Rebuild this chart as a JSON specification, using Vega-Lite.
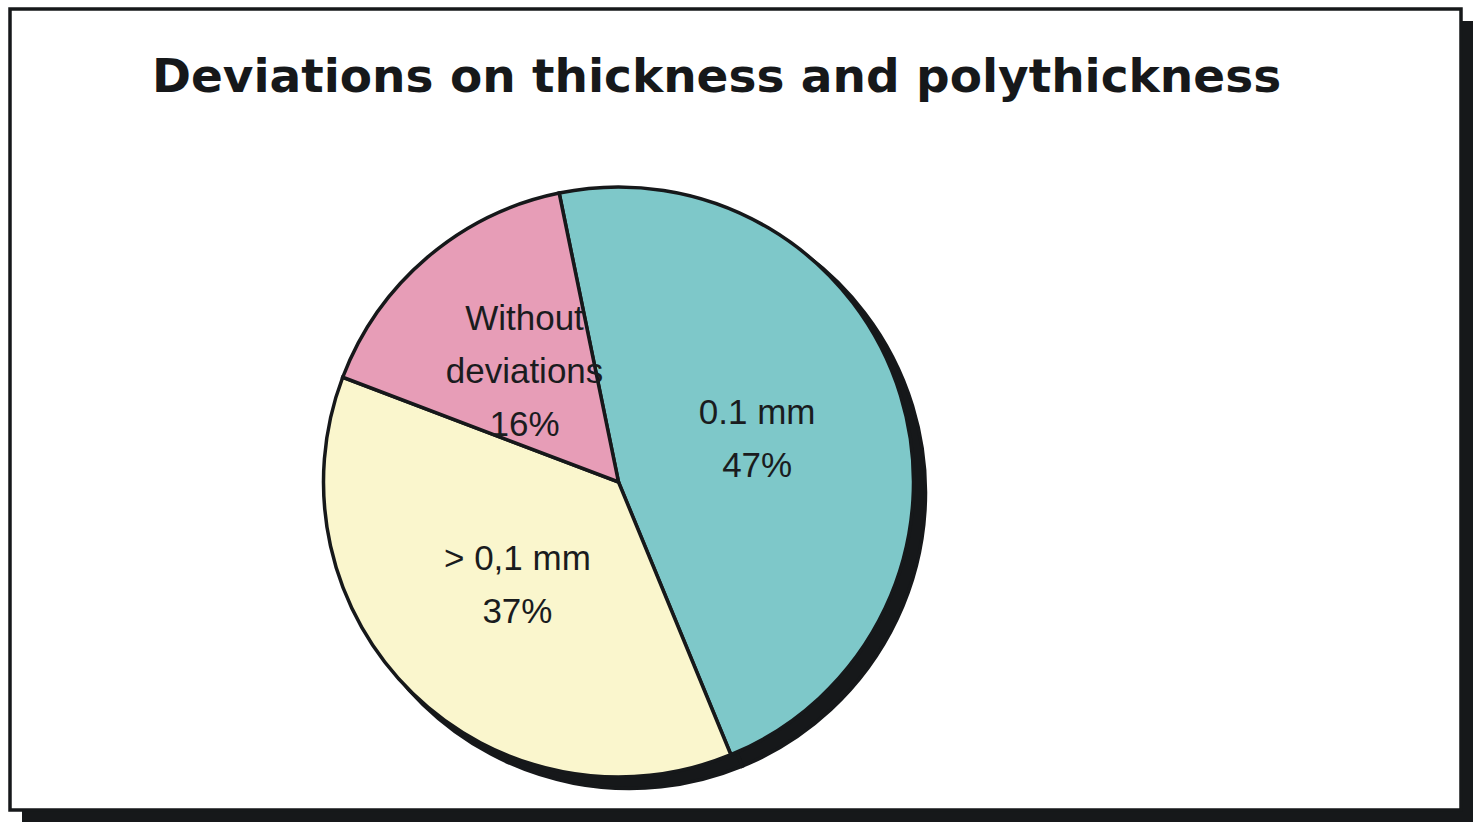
{
  "$schema": "https://vega.github.io/schema/vega-lite/v6.json",
  "autosize": "none",
  "width": 1451,
  "height": 801,
  "padding": {"left": 10, "top": 9, "right": 12, "bottom": 12},
  "background": "white",
  "config": {"view": {"stroke": null}},
  "title": {
    "text": "Deviations on thickness and polythickness",
    "font": "DejaVu Sans",
    "fontSize": 47,
    "fontWeight": "bold",
    "color": "#16181a",
    "anchor": "middle",
    "frame": "group",
    "baseline": "alphabetic",
    "offset": 0,
    "dx": -19,
    "dy": 132
  },
  "data": {
    "values": [
      {"category": "0.1 mm", "pct": 47, "label": "0.1 mm\n47%", "lines": 2, "rank": 1},
      {"category": "> 0,1 mm", "pct": 37, "label": "> 0,1 mm\n37%", "lines": 2, "rank": 2},
      {"category": "Without deviations", "pct": 16, "label": "Without\ndeviations\n16%", "lines": 3, "rank": 3}
    ]
  },
  "layer": [
    {
      "data": {"values": [{}]},
      "mark": {"type": "rect", "fill": "#16181a", "xOffset": 12, "x2Offset": 12, "yOffset": 12, "y2Offset": 12},
      "encoding": {
        "x": {"value": 0},
        "x2": {"value": "width"},
        "y": {"value": 0},
        "y2": {"value": "height"}
      }
    },
    {
      "data": {"values": [{}]},
      "mark": {"type": "rect", "fill": "white", "stroke": "#16181a", "strokeWidth": 3.5},
      "encoding": {}
    },
    {
      "mark": {"type": "arc", "outerRadius": 296, "fill": "#16181a", "stroke": "#16181a", "strokeWidth": 3.5, "xOffset": -106, "yOffset": 83},
      "encoding": {
        "theta": {"field": "pct", "type": "quantitative", "stack": true, "scale": {"range": [-0.2025, 6.0807]}},
        "order": {"field": "rank", "type": "ordinal"}
      }
    },
    {
      "mark": {"type": "arc", "outerRadius": 295, "stroke": "#16181a", "strokeWidth": 3.5, "xOffset": -117, "yOffset": 72.5},
      "encoding": {
        "theta": {"field": "pct", "type": "quantitative", "stack": true},
        "order": {"field": "rank", "type": "ordinal"},
        "color": {
          "field": "category",
          "type": "nominal",
          "scale": {"domain": ["0.1 mm", "> 0,1 mm", "Without deviations"], "range": ["#7ec8c9", "#faf6cd", "#e79db7"]},
          "legend": null
        }
      }
    },
    {
      "mark": {"type": "text", "radius": 145, "font": "Liberation Sans", "fontSize": 35, "lineHeight": 53, "lineBreak": "\n", "color": "#1a1c1e", "align": "center", "baseline": "middle", "xOffset": -117, "yOffset": 72.5, "dy": -26.5},
      "encoding": {
        "theta": {"field": "pct", "type": "quantitative", "stack": true},
        "order": {"field": "rank", "type": "ordinal"},
        "text": {"field": "label", "type": "nominal"},
        "opacity": {"condition": {"test": "datum.lines == 2", "value": 1}, "value": 0}
      }
    },
    {
      "mark": {"type": "text", "radius": 145, "font": "Liberation Sans", "fontSize": 35, "lineHeight": 53, "lineBreak": "\n", "color": "#1a1c1e", "align": "center", "baseline": "middle", "xOffset": -117, "yOffset": 72.5, "dy": -53},
      "encoding": {
        "theta": {"field": "pct", "type": "quantitative", "stack": true},
        "order": {"field": "rank", "type": "ordinal"},
        "text": {"field": "label", "type": "nominal"},
        "opacity": {"condition": {"test": "datum.lines == 3", "value": 1}, "value": 0}
      }
    }
  ]
}
